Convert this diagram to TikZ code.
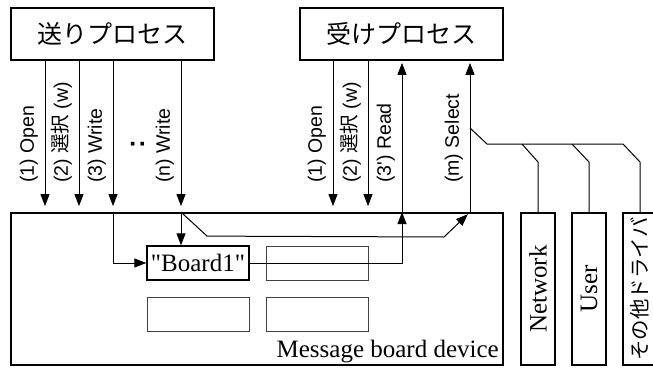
\documentclass[tikz,border=0pt]{standalone}
\usepackage{fontspec}
\setmainfont{Liberation Serif}
\newfontfamily\serifplain{Liberation Serif}[Ligatures=TeXOff]
\newfontfamily\lsans{Liberation Sans}
\newfontfamily\jpfont{Noto Sans CJK JP}
\usetikzlibrary{arrows.meta,calc}
\begin{document}
\begin{tikzpicture}[x=1pt,y=-1pt,
  arr/.style={line width=1pt,-{Triangle[length=12pt,width=9pt]}},
  ln/.style={line width=1pt},
  proc/.style={draw,line width=1.8pt,minimum width=203pt,minimum height=52pt,inner sep=0pt,font=\jpfont\fontsize{25}{25}\selectfont},
  lab/.style={rotate=90,anchor=south west,inner sep=0pt,font=\lsans\fontsize{19.5}{20}\selectfont},
  cell/.style={draw=black!75,line width=0.8pt,minimum width=102pt,minimum height=34pt,inner sep=0pt},
  drv/.style={draw,line width=1.2pt,minimum width=34pt,minimum height=152pt,inner sep=0pt},
  serif25/.style={font=\fontsize{25}{25}\selectfont},
]
\useasboundingbox (0,0) rectangle (653,367);
\clip (0,0) rectangle (653,367);
% processes
\node[proc] (send) at (112.5,34) {送りプロセス};
\node[proc] (recv) at (401.5,34) {受けプロセス};
% device
\node[draw,line width=1.8pt,minimum width=492pt,minimum height=152pt,inner sep=0pt] (dev) at (257,289) {};
\node[draw,line width=1.3pt,minimum width=102pt,minimum height=34pt,inner sep=0pt,font=\serifplain\fontsize{25}{25}\selectfont] (board1) at (198,263) {"Board1"};
\node[cell] (b2) at (317,263.5) {};
\node[cell] (b3) at (198,314) {};
\node[cell] (b4) at (317,314) {};
\node[serif25,anchor=base east,inner sep=0pt] (devl) at (499,357) {Message board device};
% drivers
\node[drv] (net) at (538,289) {};
\node[drv] (user) at (589,289) {};
\node[drv] (other) at (640,289) {};
\node[rotate=90,serif25,inner sep=0pt] (netl) at (net) {Network};
\node[rotate=90,serif25,inner sep=0pt] (userl) at (user) {User};
\node[rotate=90,inner sep=0pt,font=\jpfont\fontsize{20.5}{21}\selectfont] (otherl) at (other) {その他ドライバ};
% x positions
\coordinate (xa) at (45,0);
\coordinate (xb) at (79,0);
\coordinate (xc) at (113,0);
\coordinate (xn) at (181,0);
\coordinate (xd) at (333,0);
\coordinate (xe) at (368,0);
\coordinate (xr) at (402,0);
\coordinate (xs) at (470,0);
% sender arrows
\foreach \c in {xa,xb,xc,xn}{
  \draw[arr,shorten >=6pt] (send.south -| \c) -- (dev.north -| \c);
}
% receiver down arrows
\foreach \c in {xd,xe}{
  \draw[arr,shorten >=6pt] (recv.south -| \c) -- (dev.north -| \c);
}
% up arrows
\draw[arr,shorten >=2pt] (dev.north -| xr) -- (recv.south -| xr);
\draw[arr,shorten >=2pt] (dev.north -| xs) -- (recv.south -| xs);
% labels
\node[lab] (l1) at (38,183) {(1) Open};
\node[lab] (l2) at (72,183) {(2) {\jpfont 選択} (w)};
\node[lab] (l3) at (106,183) {(3) Write};
\node[lab] (ln) at (174,183) {(n) Write};
\node[rotate=90,inner sep=0pt,font=\lsans\bfseries\fontsize{26}{26}\selectfont] (dots) at (137.5,144) {:};
\node[lab] (r1) at (326,183) {(1) Open};
\node[lab] (r2) at (361,183) {(2) {\jpfont 選択} (w)};
\node[lab] (r3) at (395,183) {(3') Read};
\node[lab] (rm) at (463,183) {(m) Select};
% inside device
\draw[arr] (dev.north -| xc) |- (board1.west);
\draw[arr] (dev.north -| xn) -- (board1.north -| xn);
\draw[arr,shorten >=3pt] (dev.north -| xn) -- ++(26,24) -- (444,237) -- (dev.north -| xs);
\draw[arr] (board1.east) -| (dev.north -| xr);
% select branches
\coordinate (br) at (470,128);
\draw[ln] (br) -- ++(17,16) -- (623,144) -- ++(17,18) -- (other.north);
\draw[ln] (522,144) -- ++(16,18) -- (net.north);
\draw[ln] (572,144) -- ++(17,18) -- (user.north);
\end{tikzpicture}
\end{document}
